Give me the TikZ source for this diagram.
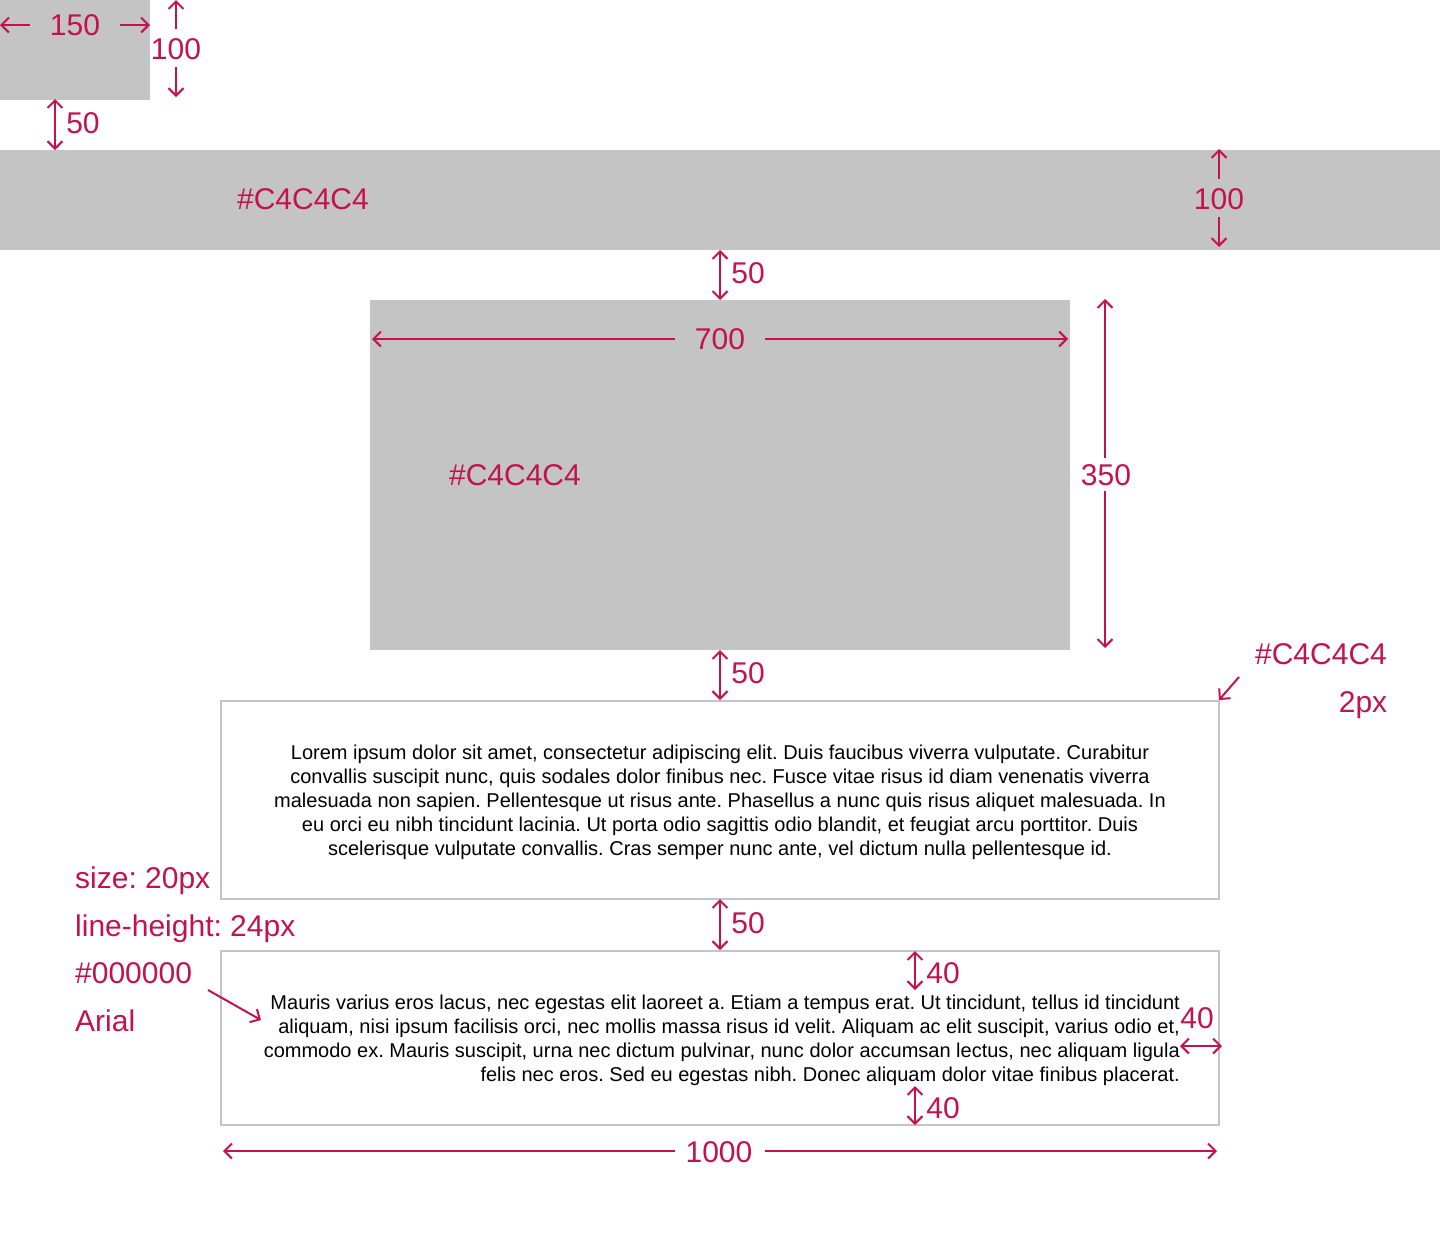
\documentclass[tikz,border=0pt]{standalone}
\usepackage{fontspec}
\setmainfont{Liberation Sans}
\frenchspacing
\usetikzlibrary{arrows.meta}
\definecolor{grayfill}{HTML}{C4C4C4}
\definecolor{dimred}{HTML}{C2124F}
\begin{document}
\begin{tikzpicture}[x=1pt,y=-1pt,
  tipb/.tip={Straight Barb[length=7.5pt,width=15pt]},
  dim/.style={draw=dimred, line width=2pt, -tipb},
  dimb/.style={draw=dimred, line width=2pt, tipb-tipb},
  lab/.style={text=dimred, font=\fontsize{30}{32}\selectfont\frenchspacing, inner sep=0pt, text height=20pt, text depth=0pt},
  llab/.style={lab, anchor=west},
  block/.style={fill=grayfill, draw=none},
  frame/.style={draw=grayfill, line width=2pt},
  body/.style={font=\fontsize{20}{24}\selectfont\frenchspacing, inner sep=0pt, text=black}]
\useasboundingbox (0,0) rectangle (1440,1254);

% gray blocks
\fill[block] (0,0) rectangle (150,100);
\fill[block] (0,150) rectangle (1440,250);
\fill[block] (370,300) rectangle (1070,650);

% text boxes
\draw[frame] (221,701) rectangle (1219,899);
\draw[frame] (221,951) rectangle (1219,1125);

\node[body, align=center] (t1) at (720,802) {Lorem ipsum dolor sit amet, consectetur adipiscing elit. Duis faucibus viverra vulputate. Curabitur\\
convallis suscipit nunc, quis sodales dolor finibus nec. Fusce vitae risus id diam venenatis viverra\\
malesuada non sapien. Pellentesque ut risus ante. Phasellus a nunc quis risus aliquet malesuada. In\\
eu orci eu nibh tincidunt lacinia. Ut porta odio sagittis odio blandit, et feugiat arcu porttitor. Duis\\
scelerisque vulputate convallis. Cras semper nunc ante, vel dictum nulla pellentesque id.};

\node[body, align=right, anchor=east] (t2) at (1180,1040) {Mauris varius eros lacus, nec egestas elit laoreet a. Etiam a tempus erat. Ut tincidunt, tellus id tincidunt\\
aliquam, nisi ipsum facilisis orci, nec mollis massa risus id velit. Aliquam ac elit suscipit, varius odio et,\\
commodo ex. Mauris suscipit, urna nec dictum pulvinar, nunc dolor accumsan lectus, nec aliquam ligula\\
felis nec eros. Sed eu egestas nibh. Donec aliquam dolor vitae finibus placerat.};

% 150 width
\node[lab] (w150) at (75,25) {150};
\coordinate (w150l) at (30,25); \coordinate (w150le) at (0,25);
\coordinate (w150r) at (120,25); \coordinate (w150re) at (150,25);
\draw[dim] (w150l) -- (w150le);
\draw[dim] (w150r) -- (w150re);

% 100 height small
\node[lab] (h100) at (176,49) {100};
\coordinate (h100u) at (176,29); \coordinate (h100ue) at (176,0);
\coordinate (h100d) at (176,67); \coordinate (h100de) at (176,97);
\draw[dim] (h100u) -- (h100ue);
\draw[dim] (h100d) -- (h100de);

% 50 gap 1
\node[lab] (g1) at (83,123) {50};
\coordinate (g1a) at (55,99); \coordinate (g1b) at (55,150);
\draw[dimb] (g1a) -- (g1b);

% band
\node[lab] (bandc) at (303,199) {\#C4C4C4};
\node[lab] (b100) at (1219,199) {100};
\coordinate (b100u) at (1219,179); \coordinate (b100ue) at (1219,149);
\coordinate (b100d) at (1219,217); \coordinate (b100de) at (1219,247);
\draw[dim] (b100u) -- (b100ue);
\draw[dim] (b100d) -- (b100de);

% 50 gap 2
\node[lab] (g2) at (748,273) {50};
\coordinate (g2a) at (720,250); \coordinate (g2b) at (720,300);
\draw[dimb] (g2a) -- (g2b);

% big rect
\node[lab] (w700) at (720,339) {700};
\coordinate (w700l) at (675,339); \coordinate (w700le) at (372,339);
\coordinate (w700r) at (765,339); \coordinate (w700re) at (1068,339);
\draw[dim] (w700l) -- (w700le);
\draw[dim] (w700r) -- (w700re);
\node[lab] (bigc) at (515,475) {\#C4C4C4};

\node[lab] (h350) at (1106,475) {350};
\coordinate (h350u) at (1105,458); \coordinate (h350ue) at (1105,299);
\coordinate (h350d) at (1105,491); \coordinate (h350de) at (1105,648);
\draw[dim] (h350u) -- (h350ue);
\draw[dim] (h350d) -- (h350de);

% 50 gap 3
\node[lab] (g3) at (748,673) {50};
\coordinate (g3a) at (720,650); \coordinate (g3b) at (720,700);
\draw[dimb] (g3a) -- (g3b);

% border note
\node[lab] (bcol) at (1321,654) {\#C4C4C4};
\node[lab] (bw) at (1363,702) {2px};
\coordinate (bnote) at (1239,677); \coordinate (bcorner) at (1219,700);
\draw[dim] (bnote) -- (bcorner);

% 50 gap 4
\node[lab] (g4) at (748,923) {50};
\coordinate (g4a) at (720,899); \coordinate (g4b) at (720,950);
\draw[dimb] (g4a) -- (g4b);

% font notes
\node[llab] (fs) at (75,878) {size: 20px};
\node[llab] (lh) at (75,926) {line-height: 24px};
\node[llab] (fc) at (75,973) {\#000000};
\node[llab] (ff) at (75,1021) {Arial};
\coordinate (fnote) at (208,990); \coordinate (ftext) at (261,1020);
\draw[dim] (fnote) -- (ftext);

% padding
\node[lab] (p1) at (943,973) {40};
\coordinate (p1a) at (915,951); \coordinate (p1b) at (915,990);
\draw[dimb] (p1a) -- (p1b);
\node[lab] (p2) at (943,1108) {40};
\coordinate (p2a) at (915,1086); \coordinate (p2b) at (915,1125);
\draw[dimb] (p2a) -- (p2b);
\node[lab] (p3) at (1197,1018) {40};
\coordinate (p3a) at (1180,1046); \coordinate (p3b) at (1222,1046);
\draw[dimb] (p3a) -- (p3b);

% 1000
\node[lab] (w1000) at (719,1152) {1000};
\coordinate (w1000l) at (675,1151); \coordinate (w1000le) at (223,1151);
\coordinate (w1000r) at (765,1151); \coordinate (w1000re) at (1217,1151);
\draw[dim] (w1000l) -- (w1000le);
\draw[dim] (w1000r) -- (w1000re);
\end{tikzpicture}
\end{document}
